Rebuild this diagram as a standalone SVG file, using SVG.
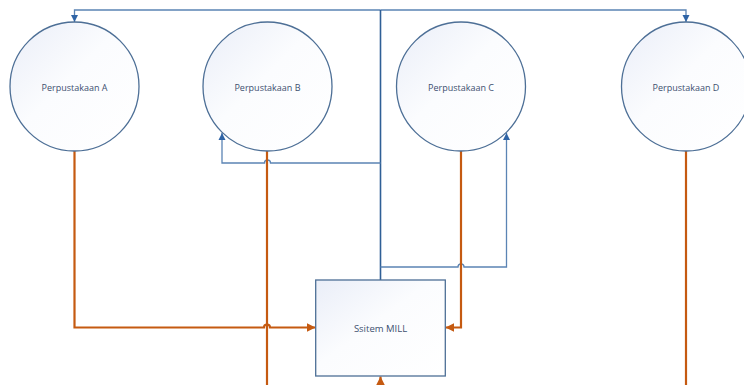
<svg xmlns="http://www.w3.org/2000/svg" width="744" height="385" viewBox="0 0 744 385">
<style>
.node{fill:url(#g);stroke:#4d6f96;stroke-width:1.3}
.lbl{font-family:"Open Sans","Noto Sans",sans-serif;font-size:9px;fill:#3d5070;text-anchor:middle;dominant-baseline:central}
.b{fill:none;stroke:#5b84b4;stroke-width:1.3}
.bd{fill:none;stroke:#2f5f96;stroke-width:1.6}
.o{fill:none;stroke:#c55a11;stroke-width:2.2}
</style>
<defs>
<linearGradient id="g" x1="0" y1="0" x2="1" y2="1">
<stop offset="0" stop-color="#eaeef8"/>
<stop offset="0.45" stop-color="#fbfcfe"/>
<stop offset="1" stop-color="#ffffff"/>
</linearGradient>
<marker id="ab" viewBox="0 0 10 10" refX="10" refY="5" markerWidth="5.5" markerHeight="5.5" markerUnits="strokeWidth" orient="auto"><path d="M0,0L10,5L0,10z" fill="#2f64a6"/></marker>
<marker id="ao" viewBox="0 0 10 10" refX="10" refY="5" markerWidth="4" markerHeight="4" markerUnits="strokeWidth" orient="auto"><path d="M0,0L10,5L0,10z" fill="#c55a11"/></marker>
</defs>
<g id="connectors">
<path class="b" d="M380.5,10H74.5V22" marker-end="url(#ab)"/>
<path class="b" d="M380.5,10H686V22" marker-end="url(#ab)"/>
<path class="bd" d="M380.5,10V280"/>
<path class="b" d="M380.5,163H270.5a3,3 0 0 0 -6,0H222V133" marker-end="url(#ab)"/>
<path class="b" d="M380.5,267H458a3,3 0 0 1 6,0H506.5V133" marker-end="url(#ab)"/>
<path class="o" d="M74.5,151V327.5H264a3,3 0 0 1 6,0H315.5" marker-end="url(#ao)"/>
<path class="o" d="M267,151V385"/>
<path class="o" d="M461,151V327.5H445.5" marker-end="url(#ao)"/>
<path class="o" d="M686,151V385"/>
<path class="o" d="M380.5,395V376.5" marker-end="url(#ao)"/>
</g>
<g id="perpustakaan-a"><circle class="node" cx="74.5" cy="86.5" r="64.5"/><text class="lbl" x="74.5" y="87">Perpustakaan A</text></g>
<g id="perpustakaan-b"><circle class="node" cx="267.5" cy="86.5" r="64.5"/><text class="lbl" x="267.5" y="87">Perpustakaan B</text></g>
<g id="perpustakaan-c"><circle class="node" cx="461" cy="86.5" r="64.5"/><text class="lbl" x="461" y="87">Perpustakaan C</text></g>
<g id="perpustakaan-d"><circle class="node" cx="686" cy="86.5" r="64.5"/><text class="lbl" x="686" y="87">Perpustakaan D</text></g>
<g id="sistem-mill"><rect class="node" x="315.7" y="280" width="129.6" height="96"/><text class="lbl" x="380.5" y="328" style="font-size:9.5px">Ssitem MILL</text></g>
</svg>
